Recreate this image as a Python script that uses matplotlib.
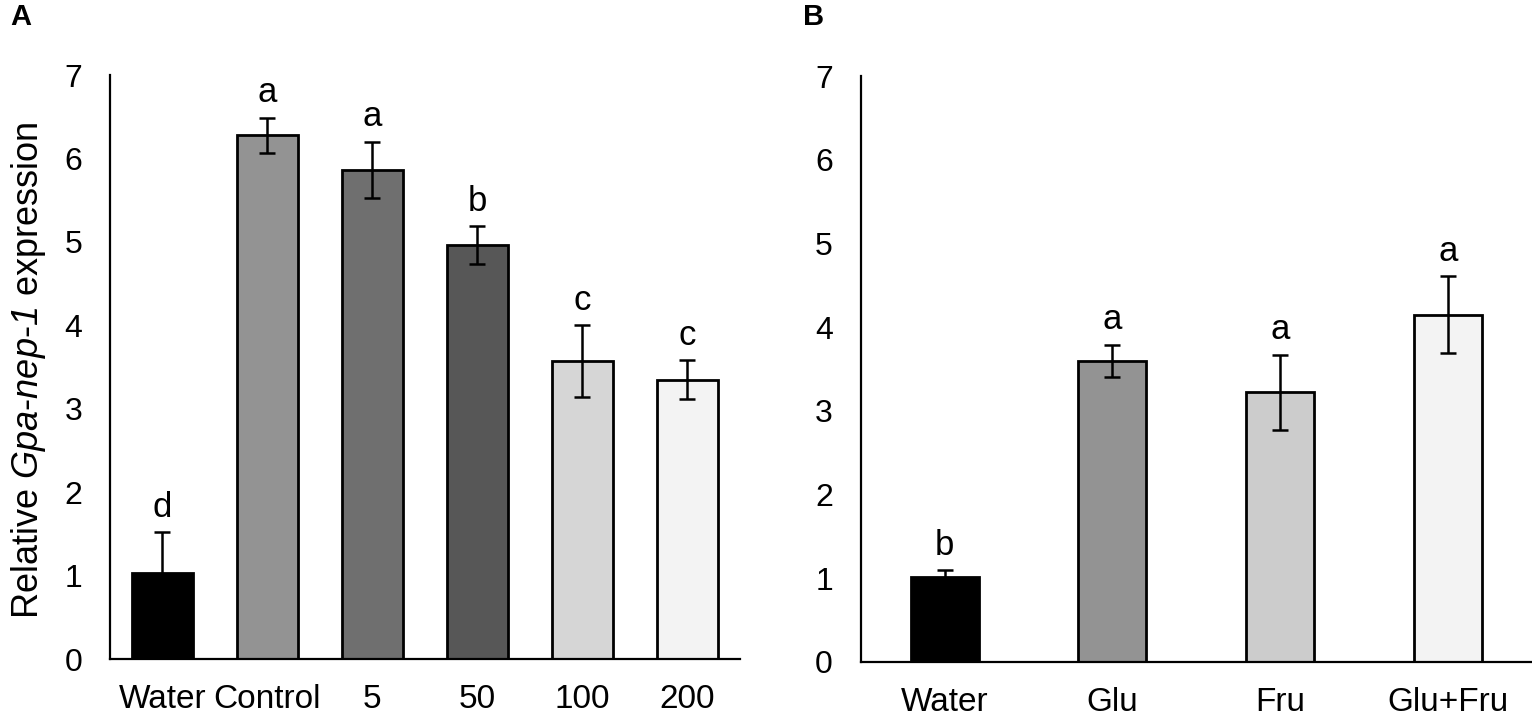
import matplotlib
matplotlib.use('Agg')
import matplotlib.pyplot as plt

plt.rcParams['font.family'] = ['Liberation Sans', 'DejaVu Sans']
# math text only used for the italic gene name, so make its roman face italic too
plt.rcParams['mathtext.fontset'] = 'custom'
plt.rcParams['mathtext.rm'] = 'Liberation Sans:italic'
plt.rcParams['mathtext.it'] = 'Liberation Sans:italic'

# panel A
a_labels = ['Water', 'Control', '5', '50', '100', '200']
a_values = [1.03, 6.28, 5.86, 4.96, 3.57, 3.35]
a_errors = [0.49, 0.21, 0.34, 0.23, 0.43, 0.23]
a_letters = ['d', 'a', 'a', 'b', 'c', 'c']
a_colors = ['#000000', '#939393', '#6f6f6f', '#575757', '#d6d6d6', '#f3f3f3']

# panel B
b_labels = ['Water', 'Glu', 'Fru', 'Glu+Fru']
b_values = [1.01, 3.60, 3.22, 4.15]
b_errors = [0.09, 0.19, 0.45, 0.46]
b_letters = ['b', 'a', 'a', 'a']
b_colors = ['#000000', '#939393', '#cccccc', '#f3f3f3']

fig = plt.figure(figsize=(15.32, 7.2), dpi=100)
ax_a = fig.add_axes([0.0718, 0.0847, 0.4112, 0.8111])
ax_b = fig.add_axes([0.5618, 0.0806, 0.4382, 0.8138])


def draw_panel(ax, labels, values, errors, letters, colors, width):
    x = list(range(len(labels)))
    ax.bar(x, values, width=width, color=colors, edgecolor='black',
           linewidth=2.0, zorder=2)
    ax.errorbar(x, values, yerr=errors, fmt='none', ecolor='black',
                elinewidth=1.8, capsize=6, capthick=1.8, zorder=3)
    for xi, v, e, let in zip(x, values, errors, letters):
        ax.annotate(let, (xi, v + e), xytext=(0, 6), textcoords='offset points',
                    ha='center', va='bottom', fontsize=25)
    ax.set_xlim(-0.5, len(labels) - 0.5)
    ax.set_ylim(0, 7)
    ax.set_yticks(range(8))
    ax.set_xticks(x)
    ax.set_xticklabels(labels)
    for s in ['top', 'right']:
        ax.spines[s].set_visible(False)
    for s in ['left', 'bottom']:
        ax.spines[s].set_linewidth(1.6)
    ax.tick_params(axis='y', length=0, pad=20, labelsize=23)
    ax.tick_params(axis='x', length=0, pad=18, labelsize=24)


draw_panel(ax_a, a_labels, a_values, a_errors, a_letters, a_colors, 0.58)
draw_panel(ax_b, b_labels, b_values, b_errors, b_letters, b_colors, 0.405)

ax_a.set_ylabel('Relative $Gpa$-$nep$-$1$ expression', fontsize=26)
ax_a.yaxis.set_label_coords(-0.098, 0.495)

fig.text(0.007, 0.996, 'A', fontsize=21, fontweight='bold', va='top')
fig.text(0.524, 0.996, 'B', fontsize=21, fontweight='bold', va='top')

fig.savefig('out.png', dpi=100)
